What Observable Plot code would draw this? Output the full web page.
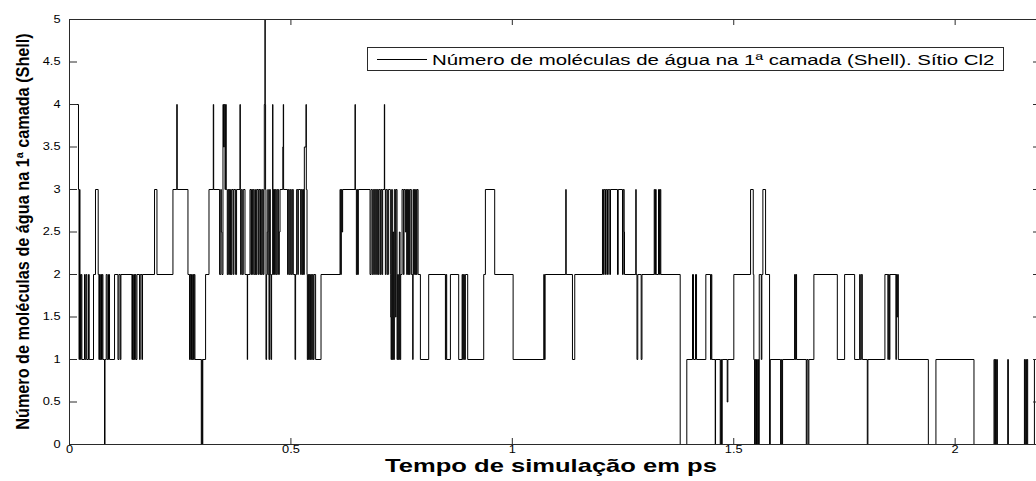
<!DOCTYPE html>
<html>
<head>
<meta charset="utf-8">
<script src="https://cdn.jsdelivr.net/npm/d3@7"></script>
<script src="https://cdn.jsdelivr.net/npm/@observablehq/plot@0.6"></script>
<style>
  html, body { margin: 0; padding: 0; background: #fff; overflow: hidden; }
  #chart { position: relative; width: 1036px; height: 481px; overflow: hidden; }
  #chart svg { max-width: none !important; }
</style>
</head>
<body>
<div id="chart"></div>
<script>
// Time of each change in the count (ps); the count holds until the next entry.
const tempo = [
  0, 0.0203, 0.0215, 0.0226, 0.0237, 0.0249, 0.0264, 0.0280, 0.0339, 0.0355,
  0.0377, 0.0393, 0.0429, 0.0445, 0.0542, 0.0587, 0.0648, 0.0664, 0.0678, 0.0694,
  0.0709, 0.0723, 0.0739, 0.0755, 0.0791, 0.0802, 0.0829, 0.0852, 0.0881, 0.0904,
  0.1017, 0.1094, 0.1116, 0.1146, 0.1161, 0.1410, 0.1423, 0.1439, 0.1455, 0.1469,
  0.1484, 0.1500, 0.1523, 0.1582, 0.1597, 0.1636, 0.1649, 0.1920, 0.1975, 0.2336,
  0.2422, 0.2433, 0.2675, 0.2711, 0.2727, 0.2743, 0.2756, 0.2772, 0.2788, 0.2802,
  0.2817, 0.2833, 0.2976, 0.2991, 0.2998, 0.3010, 0.3073, 0.3150, 0.3247, 0.3256,
  0.3389, 0.3416, 0.3428, 0.3443, 0.3466, 0.3479, 0.3495, 0.3511, 0.3525, 0.3540,
  0.3563, 0.3579, 0.3597, 0.3608, 0.3624, 0.3638, 0.3653, 0.3669, 0.3699, 0.3714,
  0.3751, 0.3773, 0.3850, 0.3857, 0.3864, 0.3879, 0.3902, 0.3925, 0.3963, 0.4015,
  0.4022, 0.4076, 0.4099, 0.4112, 0.4135, 0.4150, 0.4173, 0.4202, 0.4218, 0.4234,
  0.4264, 0.4279, 0.4302, 0.4315, 0.4331, 0.4354, 0.4376, 0.4392, 0.4399, 0.4415,
  0.4419, 0.4428, 0.4437, 0.4451, 0.4467, 0.4478, 0.4489, 0.4505, 0.4519, 0.4535,
  0.4550, 0.4564, 0.4587, 0.4593, 0.4609, 0.4618, 0.4632, 0.4648, 0.4670, 0.4693,
  0.4722, 0.4738, 0.4754, 0.4817, 0.4828, 0.4835, 0.4925, 0.4941, 0.4964, 0.4987,
  0.5009, 0.5032, 0.5054, 0.5093, 0.5106, 0.5129, 0.5156, 0.5167, 0.5219, 0.5235,
  0.5258, 0.5273, 0.5287, 0.5303, 0.5341, 0.5348, 0.5364, 0.5371, 0.5386, 0.5400,
  0.5416, 0.5432, 0.5445, 0.5468, 0.5484, 0.5506, 0.5522, 0.5558, 0.5680, 0.6109,
  0.6123, 0.6139, 0.6155, 0.6168, 0.6448, 0.6455, 0.6478, 0.6494, 0.6507, 0.6523,
  0.6787, 0.6810, 0.6839, 0.6862, 0.6891, 0.6907, 0.6936, 0.6952, 0.6975, 0.6991,
  0.7020, 0.7036, 0.7058, 0.7072, 0.7110, 0.7117, 0.7133, 0.7149, 0.7178, 0.7201,
  0.7246, 0.7253, 0.7262, 0.7275, 0.7291, 0.7307, 0.7321, 0.7336, 0.7359, 0.7375,
  0.7397, 0.7411, 0.7427, 0.7449, 0.7465, 0.7479, 0.7510, 0.7540, 0.7555, 0.7585,
  0.7601, 0.7614, 0.7630, 0.7646, 0.7659, 0.7675, 0.7691, 0.7720, 0.7750, 0.7759,
  0.7772, 0.7788, 0.7804, 0.7818, 0.7833, 0.7849, 0.7872, 0.7924, 0.8111, 0.8489,
  0.8504, 0.8518, 0.8602, 0.8789, 0.8866, 0.8879, 0.8895, 0.8918, 0.8940, 0.8992,
  0.9354, 0.9392, 0.9602, 1.0018, 1.0710, 1.0725, 1.0741, 1.1207, 1.1216, 1.1358,
  1.1410, 1.2036, 1.2058, 1.2074, 1.2104, 1.2119, 1.2149, 1.2165, 1.2201, 1.2217,
  1.2375, 1.2391, 1.2488, 1.2504, 1.2526, 1.2533, 1.2788, 1.2797, 1.2815, 1.2833,
  1.2910, 1.2928, 1.3204, 1.3217, 1.3233, 1.3249, 1.3301, 1.3324, 1.3340, 1.3353,
  1.3791, 1.3940, 1.4069, 1.4092, 1.4137, 1.4160, 1.4370, 1.4476, 1.4492, 1.4505,
  1.4582, 1.4589, 1.4695, 1.4709, 1.4725, 1.4740, 1.4853, 1.4867, 1.5002, 1.5380,
  1.5441, 1.5454, 1.5470, 1.5486, 1.5500, 1.5515, 1.5531, 1.5545, 1.5561, 1.5576,
  1.5622, 1.5635, 1.5658, 1.5719, 1.5809, 1.5825, 1.6058, 1.6073, 1.6087, 1.6103,
  1.6374, 1.6390, 1.6403, 1.6419, 1.6638, 1.6652, 1.6679, 1.6697, 1.6810, 1.7339,
  1.7504, 1.7730, 1.7843, 1.7858, 1.7881, 1.7904, 1.8016, 1.8030, 1.8414, 1.8482,
  1.8491, 1.8514, 1.8527, 1.8663, 1.8672, 1.8685, 1.8701, 1.8717, 1.9395, 1.9566,
  2.0425, 2.0877, 2.0893, 2.0909, 2.0922, 2.0938, 2.0954, 2.1187, 2.1202, 2.1564,
  2.1577, 2.1593, 2.1609, 2.1623, 2.1638, 2.1790, 2.195
];

// Number of water molecules in the first shell from each time above.
const moleculas = [
  4, 3, 1, 3, 2, 1, 2, 1, 2, 1,
  2, 1, 2, 1, 2, 3, 2, 1, 2, 1,
  2, 1, 2, 1, 0, 1, 2, 1, 2, 1,
  2, 1, 2, 1, 2, 1, 2, 1, 2, 1,
  2, 1, 2, 1, 2, 1, 2, 3, 2, 3,
  4, 3, 2, 1, 2, 1, 2, 1, 2, 1,
  2, 1, 0, 1, 0, 1, 2, 3, 4, 3,
  2, 3, 2.5, 2, 4, 3.5, 4, 3, 4, 3,
  2, 3, 2, 3, 2, 3, 2, 3, 2, 3,
  2, 3, 4, 3, 2, 3, 2, 3, 2, 1,
  2, 3, 2, 3, 2, 3, 2, 3, 2, 3,
  2, 3, 2, 3, 2, 3, 2, 3, 4, 5,
  4, 3, 1, 2, 2.5, 3, 2, 1, 3, 2,
  1, 2, 4, 3, 2, 3, 2, 3, 2, 3,
  2, 2.5, 3, 3.5, 4, 3, 2, 3, 2, 3,
  2, 3, 2, 1, 2, 3, 2, 3, 2, 3,
  2, 3, 2, 3.5, 4, 3, 2, 1, 2, 1,
  2, 1, 2, 1, 2, 1, 2, 1, 2, 3,
  2, 3, 2.5, 3, 4, 3, 2, 3, 2, 3,
  2, 3, 2, 3, 2, 3, 2, 3, 2, 3,
  2, 3, 2, 3, 4, 3, 2, 3, 2, 3,
  2, 1.5, 1, 3, 1, 2.5, 1, 3, 1.5, 3,
  1, 2, 1, 2.5, 1, 2, 3, 2, 3, 2.5,
  3, 2, 3, 2, 3, 2, 3, 2, 1, 3,
  2, 3, 2, 3, 2, 3, 2, 1, 2, 1,
  2, 1, 2, 1, 2, 1, 2, 1, 2, 1,
  2, 3, 2, 1, 2, 1, 2, 3, 2, 1,
  2, 3, 2, 3, 2, 3, 2, 3, 2, 3,
  2, 3, 2, 3, 2.5, 2, 3, 2, 1, 2,
  1, 2, 3, 2, 3, 2, 3, 2, 3, 2,
  0, 1, 2, 1, 2, 1, 2, 1, 2, 1,
  0, 1, 0, 1, 0, 1, 0.5, 1, 2, 3,
  2, 1, 0, 1, 0, 1, 0, 1, 0, 2,
  1, 2, 3, 2, 0, 1, 0, 1, 0, 1,
  2, 1, 2, 1, 0, 1, 0, 1, 2, 1,
  2, 1, 2, 1, 2, 1, 0, 1, 2, 1,
  2, 1, 2, 1, 2, 1.5, 2, 1, 0, 1,
  0, 1, 0, 1, 0, 1, 0, 1, 0, 1,
  0, 1, 0, 1, 0, 1, 1
];

const xTicks = [0, 0.5, 1, 1.5, 2];
const yTicks = [0, 0.5, 1, 1.5, 2, 2.5, 3, 3.5, 4, 4.5, 5];

const xLabel = "Tempo de simulação em ps";
const yLabel = "Número de moléculas de água na 1ª camada (Shell)";
const legendLabel = "Número de moléculas de água na 1ª camada (Shell). Sítio Cl2";

const serie = tempo.map((t, i) => ({t, n: moleculas[i]}));

const FONT = "'Liberation Sans', Arial, Helvetica, sans-serif";
const W = 1048, H = 481;
const mLeft = 69, mRight = 7, mTop = 19, mBottom = 37;
const xMax = 2.195, yMax = 5;

// inward tick lengths, converted from pixels to data units
const pxPerX = (W - mLeft - mRight) / xMax;
const pxPerY = (H - mTop - mBottom) / yMax;
const tickV = 6 / pxPerY;   // vertical ticks on the horizontal edges
const tickH = 8 / pxPerX;   // horizontal ticks on the vertical edges
const axisColor = "#2a2a2a";

const chart = Plot.plot({
  width: W,
  height: H,
  marginLeft: mLeft,
  marginRight: mRight,
  marginTop: mTop,
  marginBottom: mBottom,
  style: {fontFamily: FONT, fontSize: "10px", color: "#000", background: "#fff", overflow: "visible", maxWidth: "none"},
  x: {domain: [0, xMax], label: null},
  y: {domain: [0, yMax], label: null},
  marks: [
    Plot.line(serie, {x: "t", y: "n", curve: "step-after", stroke: "#000", strokeWidth: 1}),
    // inward ticks on all four sides
    Plot.ruleX(xTicks, {x: d => d, y1: () => 0, y2: () => tickV, stroke: axisColor}),
    Plot.ruleX(xTicks, {x: d => d, y1: () => yMax - tickV, y2: () => yMax, stroke: axisColor}),
    Plot.ruleY(yTicks, {y: d => d, x1: () => 0, x2: () => tickH, stroke: axisColor}),
    Plot.ruleY(yTicks, {y: d => d, x1: () => xMax - tickH, x2: () => xMax, stroke: axisColor}),
    Plot.frame({stroke: axisColor}),
    Plot.axisX({ticks: xTicks, tickSize: 0, tickPadding: 1, tickFormat: d => String(d), label: null}),
    Plot.axisY({ticks: yTicks, tickSize: 0, tickPadding: 9, tickFormat: d => String(d), label: null})
  ]
});

chart.style.maxWidth = "none";
chart.setAttribute("width", W);
chart.setAttribute("height", H);
document.getElementById("chart").appendChild(chart);

const svg = d3.select(chart);

// the tick labels are drawn wide, as in the original figure
svg.selectAll('g[aria-label="x-axis tick label"] text, g[aria-label="y-axis tick label"] text')
  .each(function () {
    const el = d3.select(this);
    const tr = el.attr("transform") || "";
    el.attr("transform", tr + " scale(1.28,1)");
  });

// Place a text and stretch it along its own direction to a given length.
function fittedText(parent, str, base, length, attrs) {
  const t = parent.append("text").text(str);
  for (const [k, v] of Object.entries(attrs)) t.attr(k, v);
  t.attr("transform", base);
  const natural = t.node().getComputedTextLength() || length;
  t.attr("transform", `${base} scale(${length / natural},1)`);
  return t;
}

// legend box
const lg = svg.append("g").attr("font-family", FONT);
lg.append("rect")
  .attr("x", 367.5).attr("y", 47.5).attr("width", 636).attr("height", 23)
  .attr("fill", "#fff").attr("stroke", axisColor);
lg.append("line")
  .attr("x1", 377).attr("x2", 427).attr("y1", 59.5).attr("y2", 59.5)
  .attr("stroke", "#000");
fittedText(lg, legendLabel, "translate(432,65)", 563, {
  "text-anchor": "start", "font-size": 15, "fill": "#000"
});

// axis titles
fittedText(svg, xLabel, "translate(551,472)", 332, {
  "text-anchor": "middle", "font-family": FONT, "font-weight": "bold", "font-size": 18, "fill": "#000"
});
fittedText(svg, yLabel, "translate(29,231.5) rotate(-90)", 397, {
  "text-anchor": "middle", "font-family": FONT, "font-weight": "bold", "font-size": 18, "fill": "#000"
});
</script>
</body>
</html>
